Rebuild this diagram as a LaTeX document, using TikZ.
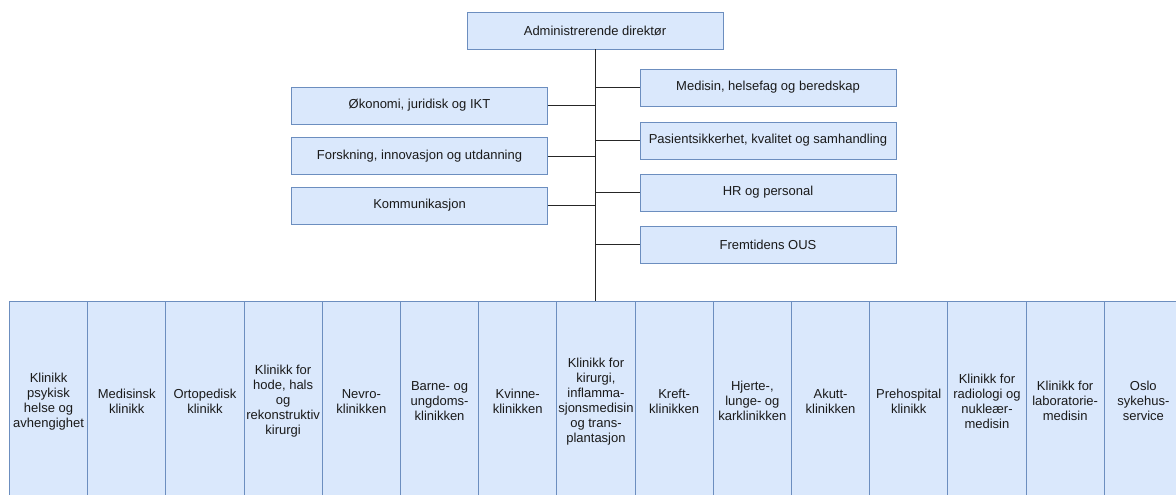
\documentclass[tikz,border=0pt]{standalone}
\usepackage{fontspec}
\setmainfont{Liberation Sans}
\definecolor{boxfill}{HTML}{DAE8FC}
\definecolor{boxline}{HTML}{6C8EBF}
\definecolor{txt}{HTML}{1A1A1A}

\tikzset{
  unit/.style={draw=boxline, fill=boxfill, line width=0.9pt, text=txt,
    inner sep=0pt, font=\fontsize{13}{15}\selectfont, align=center},
  staff/.style={unit, minimum width=256pt, minimum height=37pt},
  clinic/.style={unit, minimum width=78.2pt, minimum height=200pt, anchor=north west},
  link/.style={draw=black!85, line width=0.9pt}
}

\begin{document}
\begin{tikzpicture}[x=1pt, y=-1pt]
  \clip (0,0) rectangle (1176,495);

  % top management
  \node[staff] (dir) at (595,30.5) {Administrerende direktør};

  % staff units, left side
  \node[staff] (oko) at (419.5,105.5) {Økonomi, juridisk og IKT};
  \node[staff] (fou) at (419.5,156) {Forskning, innovasjon og utdanning};
  \node[staff] (kom) at (419.5,205.5) {Kommunikasjon};

  % staff units, right side
  \node[staff] (med) at (768,87.5) {Medisin, helsefag og beredskap};
  \node[staff] (pas) at (768,140.5) {Pasientsikkerhet, kvalitet og samhandling};
  \node[staff] (hr)  at (768,192.5) {HR og personal};
  \node[staff] (fre) at (768,244.5) {Fremtidens OUS};

  % clinics
  \foreach \i/\t in {
      1/{Klinikk\\psykisk\\helse og\\avhengighet},
      2/{Medisinsk\\klinikk},
      3/{Ortopedisk\\klinikk},
      4/{Klinikk for\\hode, hals\\og\\rekonstruktiv\\kirurgi},
      5/{Nevro-\\klinikken},
      6/{Barne- og\\ungdoms-\\klinikken},
      7/{Kvinne-\\klinikken},
      8/{Klinikk for\\kirurgi,\\inflamma-\\sjonsmedisin\\og trans-\\plantasjon},
      9/{Kreft-\\klinikken},
      10/{Hjerte-,\\lunge- og\\karklinikken},
      11/{Akutt-\\klinikken},
      12/{Prehospital\\klinikk},
      13/{Klinikk for\\radiologi og\\nukleær-\\medisin},
      14/{Klinikk for\\laboratorie-\\medisin},
      15/{Oslo\\sykehus-\\service}}
    \node[clinic] (c\i) at ({9+(\i-1)*78.2},300.7) {\t};

  % reporting lines
  \draw[link] (dir.south) -- (dir.south |- c8.north);
  \foreach \n in {oko,fou,kom}
    \draw[link] (\n.east) -- (\n.east -| dir.south);
  \foreach \n in {med,pas,hr,fre}
    \draw[link] (\n.west) -- (\n.west -| dir.south);
\end{tikzpicture}
\end{document}
